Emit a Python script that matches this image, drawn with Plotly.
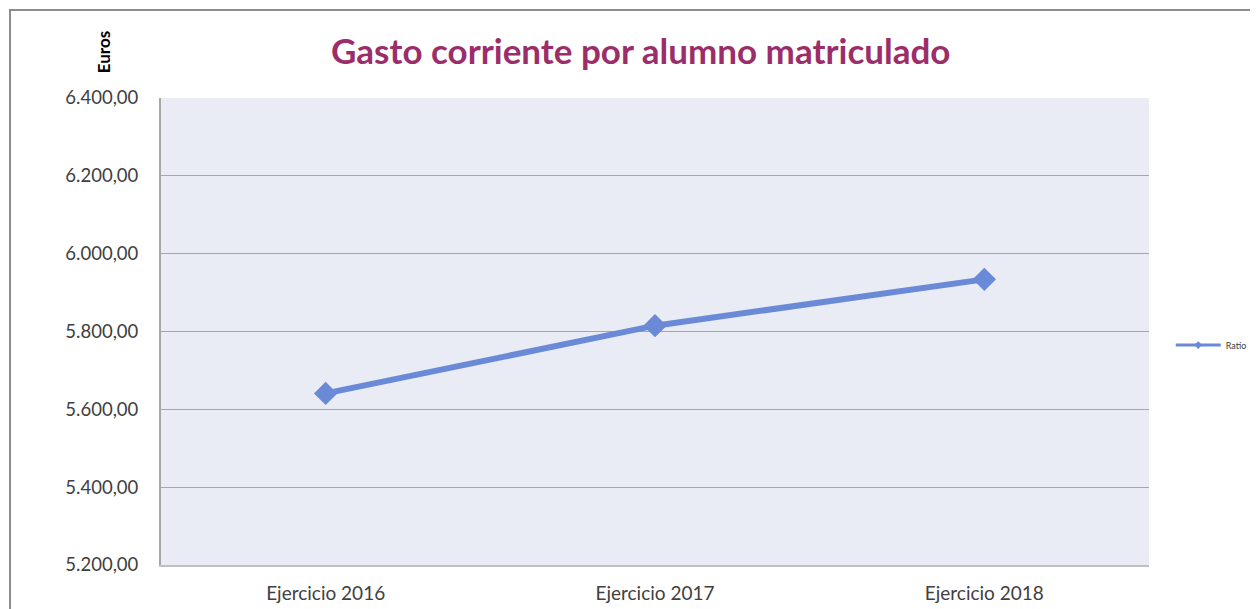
import plotly.graph_objects as go

# Datos
ejercicios = ['Ejercicio 2016', 'Ejercicio 2017', 'Ejercicio 2018']
ratio = [5641.0, 5815.0, 5934.0]
ticks_y = [5200, 5400, 5600, 5800, 6000, 6200, 6400]
etiquetas_y = ['5.200,00', '5.400,00', '5.600,00', '5.800,00', '6.000,00', '6.200,00', '6.400,00']

azul = '#6A8AD8'

fig = go.Figure()

fig.add_trace(go.Scatter(x=ejercicios, y=ratio,
                         mode='lines+markers',
                         name='Ratio',
                         showlegend=False,
                         line=dict(color=azul, width=6),
                         marker=dict(symbol='diamond', size=18, color=azul)))

# Entrada de leyenda con marcador pequeño (como en el original)
fig.add_trace(go.Scatter(x=[None], y=[None],
                         mode='lines+markers',
                         name='Ratio',
                         line=dict(color=azul, width=3),
                         marker=dict(symbol='diamond', size=6, color=azul)))

fig.update_layout(
    width=1258, height=609,
    margin=dict(l=153, r=117, t=90, b=52),  # el body del html añade 8px
    paper_bgcolor='white',
    plot_bgcolor='#E9EBF5',
    font=dict(family='Lato, Noto Sans, sans-serif', color='#404040', size=19),
    showlegend=True,
    legend=dict(x=1.022, y=0.471, xanchor='left', yanchor='middle',
                font=dict(size=9, color='#404040'), bgcolor='rgba(0,0,0,0)',
                itemwidth=45),
    xaxis=dict(showgrid=False, showline=True, linecolor='#BFBFBF', linewidth=2,
               range=[-0.5, 2.5], ticks='', ticklabelstandoff=10,
               tickfont=dict(size=19), automargin=False),
    yaxis=dict(range=[5200, 6400], tickvals=ticks_y, ticktext=etiquetas_y,
               showgrid=True, gridcolor='#A6A6A6', gridwidth=1,
               showline=True, linecolor='#A6A6A6', linewidth=2,
               zeroline=False, ticks='', ticklabelstandoff=17,
               tickfont=dict(size=18.5), automargin=False),
)

# Título
fig.add_annotation(text='<b>Gasto corriente por alumno matriculado</b>',
                   xref='paper', yref='paper', x=0.485, y=1.103,
                   xanchor='center', yanchor='middle', showarrow=False,
                   font=dict(size=35, color='#9B2E6A'))

# Etiqueta vertical "Euros"
fig.add_annotation(text='<b>Euros</b>', textangle=-90,
                   xref='paper', yref='paper', x=-0.0587, y=1.098,
                   xanchor='center', yanchor='middle', showarrow=False,
                   font=dict(size=17, color='black'))

# Borde exterior del gráfico
fig.add_shape(type='rect', xref='paper', yref='paper',
              x0=-0.1528, y0=-0.3, x1=1.3, y1=1.1884,
              line=dict(color='#8C8C8C', width=2), layer='below')

fig.write_html('out.html')
